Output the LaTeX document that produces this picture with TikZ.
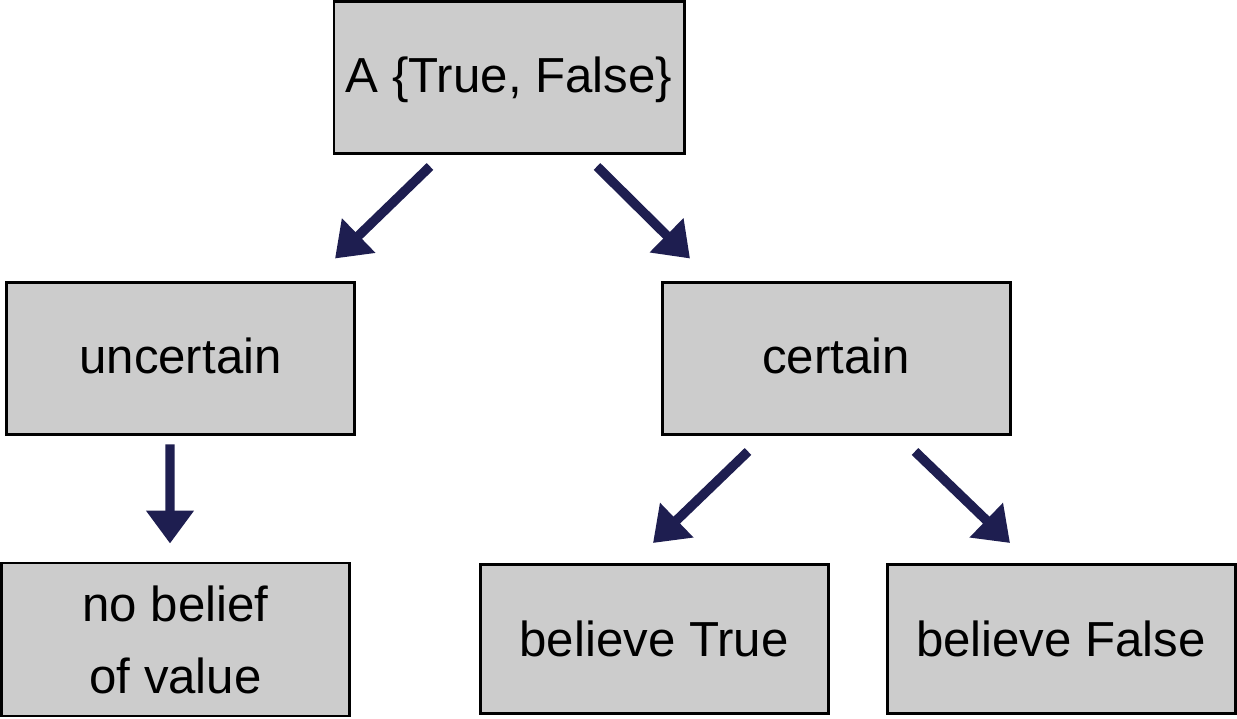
\documentclass[tikz,border=0pt]{standalone}
\usepackage{fontspec}
\setmainfont{Liberation Sans}
\usetikzlibrary{%
  arrows.meta,%
  positioning,% wg. " of "
  calc%
}
\definecolor{boxgray}{HTML}{CCCCCC}
\definecolor{arrownavy}{HTML}{1E1E50}

\begin{document}
\begin{tikzpicture}
  [
  font=\fontsize{28}{41}\selectfont,
  state/.style={rectangle, minimum height=3.04cm, minimum width=6.96cm, draw=black, line width=1.7pt, fill=boxgray, inner sep=0pt, text depth=0.4em},
  leaf/.style={state, minimum height=2.98cm, align=center, text depth=0pt},
  flow/.style={draw=arrownavy, line width=5.4pt, -{Triangle[length=0.66cm,width=0.92cm]}}
  ]

\useasboundingbox (0,0) rectangle (24.74,14.38);

\node[state, minimum width=7.0cm] (var) at (10.18,12.82) {A \{True, False\}};

\node[state] (uncertain) at (3.61,7.2) {uncertain};
\node[state] (certain) at (16.72,7.2) {certain};

\node[leaf, minimum height=3.06cm] (nobelief) at (3.51,1.59) {no belief\\of value};
\node[leaf] (believetrue) at (13.08,1.6) {believe True};
\node[leaf] (believefalse) at (21.22,1.6) {believe False};

\draw[flow] ([xshift=-1.58cm,yshift=-0.22cm]var.south) -- ([xshift=3.09cm,yshift=0.46cm]uncertain.north);
\draw[flow] ([xshift=1.76cm,yshift=-0.22cm]var.south) -- ([xshift=-2.92cm,yshift=0.46cm]certain.north);

\draw[flow] ([xshift=-0.21cm,yshift=-0.16cm]uncertain.south) -- ([xshift=-0.11cm,yshift=0.36cm]nobelief.north);

\draw[flow] ([xshift=-1.76cm,yshift=-0.3cm]certain.south) -- ([xshift=-0.02cm,yshift=0.4cm]believetrue.north);
\draw[flow] ([xshift=1.58cm,yshift=-0.3cm]certain.south) -- ([xshift=-1.02cm,yshift=0.4cm]believefalse.north);

\end{tikzpicture}
\end{document}
